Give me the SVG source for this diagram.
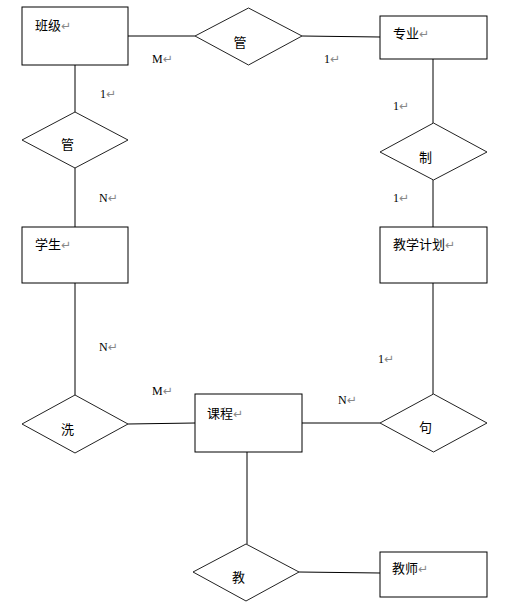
<svg xmlns="http://www.w3.org/2000/svg" width="510" height="608" viewBox="0 0 510 608">
<style>
.box{fill:#fff;stroke:#000;stroke-width:1}
.dia{fill:#fff;stroke:#222;stroke-width:1}
.cn{font-family:"Noto Sans CJK SC","Noto Sans",sans-serif;font-size:13px;fill:#000}
.lb{font-family:"Liberation Serif",serif;font-size:12px;fill:#000}
.pm{fill:#888;font-family:"DejaVu Sans",sans-serif;font-size:12px}
.ln{stroke:#000;stroke-width:1;fill:none}
</style>
<rect width="510" height="608" fill="#fff"/>
<g id="connectors">
<line class="ln" x1="128" y1="36" x2="195" y2="36"/>
<line class="ln" x1="302" y1="36" x2="380" y2="37"/>
<line class="ln" x1="75" y1="65" x2="75" y2="112"/>
<line class="ln" x1="75" y1="168" x2="75" y2="227"/>
<line class="ln" x1="75" y1="283" x2="75" y2="395"/>
<line class="ln" x1="128" y1="424" x2="195" y2="423"/>
<line class="ln" x1="302" y1="423" x2="380" y2="423"/>
<line class="ln" x1="433" y1="59" x2="433" y2="123"/>
<line class="ln" x1="433" y1="180" x2="433" y2="227"/>
<line class="ln" x1="433" y1="283" x2="433" y2="394"/>
<line class="ln" x1="247" y1="452" x2="247" y2="544"/>
<line class="ln" x1="299" y1="572" x2="380" y2="573"/>
<text class="lb" x="152" y="63">M<tspan class="pm">↵</tspan></text>
<text class="lb" x="324" y="63">1<tspan class="pm">↵</tspan></text>
<text class="lb" x="100" y="98">1<tspan class="pm">↵</tspan></text>
<text class="lb" x="99" y="202">N<tspan class="pm">↵</tspan></text>
<text class="lb" x="393" y="110">1<tspan class="pm">↵</tspan></text>
<text class="lb" x="393" y="202">1<tspan class="pm">↵</tspan></text>
<text class="lb" x="99" y="351">N<tspan class="pm">↵</tspan></text>
<text class="lb" x="152" y="395">M<tspan class="pm">↵</tspan></text>
<text class="lb" x="378" y="363">1<tspan class="pm">↵</tspan></text>
<text class="lb" x="338" y="404">N<tspan class="pm">↵</tspan></text>
</g>
<g id="banji"><rect class="box" x="22" y="7" width="106" height="58"/><text class="cn" x="35" y="30">班级<tspan class="pm">↵</tspan></text></g>
<g id="zhuanye"><rect class="box" x="380" y="16" width="107" height="43"/><text class="cn" x="393" y="38">专业<tspan class="pm">↵</tspan></text></g>
<g id="xuesheng"><rect class="box" x="22" y="227" width="106" height="56"/><text class="cn" x="35" y="249">学生<tspan class="pm">↵</tspan></text></g>
<g id="jiaoxuejihua"><rect class="box" x="380" y="227" width="107" height="56"/><text class="cn" x="393" y="249">教学计划<tspan class="pm">↵</tspan></text></g>
<g id="kecheng"><rect class="box" x="195" y="394" width="107" height="58"/><text class="cn" x="207" y="418">课程<tspan class="pm">↵</tspan></text></g>
<g id="jiaoshi"><rect class="box" x="380" y="552" width="107" height="45"/><text class="cn" x="392" y="573">教师<tspan class="pm">↵</tspan></text></g>
<g id="guan1"><polygon class="dia" points="195,36 248.5,8 302,36 248.5,65"/><text class="cn" x="240" y="47" text-anchor="middle">管</text></g>
<g id="guan2"><polygon class="dia" points="22,140 75,112 128,140 75,168"/><text class="cn" x="67.5" y="149" text-anchor="middle">管</text></g>
<g id="zhi"><polygon class="dia" points="380,152 433.5,123 487,152 433.5,180"/><text class="cn" x="425.5" y="162" text-anchor="middle">制</text></g>
<g id="xi"><polygon class="dia" points="22,424 75,395 128,424 75,453"/><text class="cn" x="67.5" y="434" text-anchor="middle">洗</text></g>
<g id="ju"><polygon class="dia" points="380,423 433.5,394 487,423 433.5,452"/><text class="cn" x="425.5" y="432" text-anchor="middle">句</text></g>
<g id="jiao"><polygon class="dia" points="193,572 246,544 299,572 246,601"/><text class="cn" x="238.5" y="582" text-anchor="middle">教</text></g>
</svg>
